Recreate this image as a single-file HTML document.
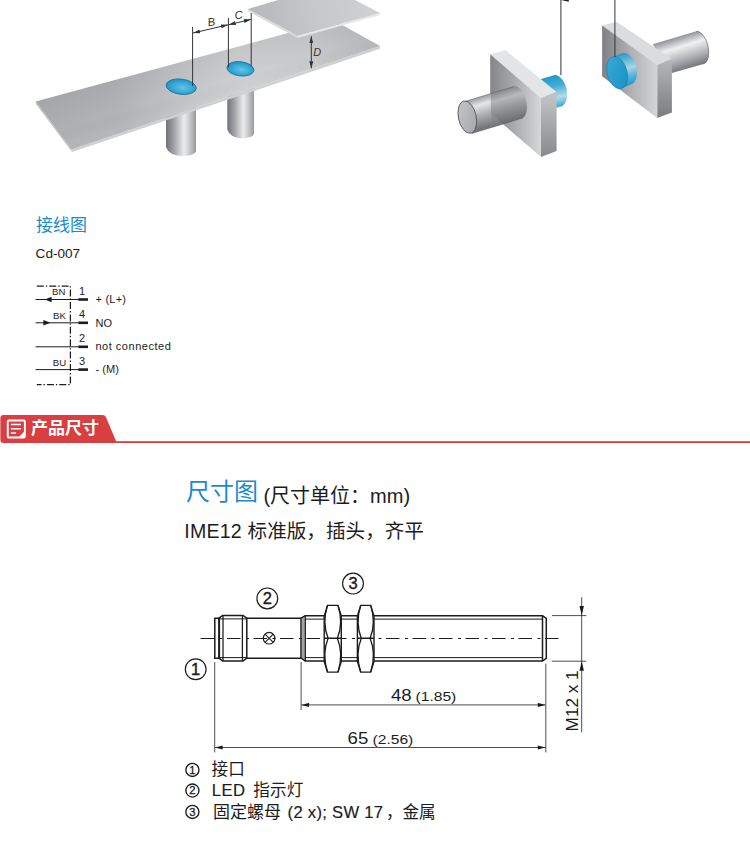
<!DOCTYPE html>
<html lang="zh-CN"><head><meta charset="utf-8"><title>IME12 接线图 / 尺寸图</title>
<style>
html,body{margin:0;padding:0;background:#fff;}
body{width:750px;height:843px;position:relative;overflow:hidden;font-family:"Liberation Sans","Noto Sans CJK SC",sans-serif;color:#1c1c1e;}
#g{position:absolute;left:0;top:0;width:750px;height:843px;display:block;}
.t{position:absolute;white-space:nowrap;line-height:1;margin:0;font-weight:normal;}
.b{-webkit-text-stroke:.18px #1c1c1e;}
.c{-webkit-text-stroke:0;letter-spacing:0;}
svg text{font-family:"Liberation Sans","Noto Sans CJK SC",sans-serif;fill:#1c1c1e;}
</style></head><body>
<svg id="g" width="750" height="843" viewBox="0 0 750 843"><defs>
<linearGradient id="lp" gradientUnits="userSpaceOnUse" x1="36" y1="110" x2="380" y2="30">
 <stop offset="0" stop-color="#adafb2"/><stop offset=".22" stop-color="#b1b3b6"/><stop offset=".45" stop-color="#c6c7c9"/><stop offset=".6" stop-color="#cfd0d2"/><stop offset=".8" stop-color="#c8c9cb"/><stop offset="1" stop-color="#b3b5b8"/>
</linearGradient>
<linearGradient id="lpo" gradientUnits="userSpaceOnUse" x1="200" y1="52" x2="214" y2="100">
 <stop offset="0" stop-color="#000" stop-opacity=".06"/><stop offset=".7" stop-color="#000" stop-opacity="0"/><stop offset="1" stop-color="#fff" stop-opacity=".05"/>
</linearGradient>
<linearGradient id="up" gradientUnits="userSpaceOnUse" x1="250" y1="20" x2="380" y2="0">
 <stop offset="0" stop-color="#b4b6b9"/><stop offset=".5" stop-color="#c7c8cb"/><stop offset="1" stop-color="#d0d1d3"/>
</linearGradient>
<linearGradient id="cy1" gradientUnits="userSpaceOnUse" x1="166" y1="0" x2="196" y2="0">
 <stop offset="0" stop-color="#6f7174"/><stop offset=".28" stop-color="#a3a5a8"/><stop offset=".6" stop-color="#ececed"/><stop offset=".78" stop-color="#c9cacc"/><stop offset="1" stop-color="#97999c"/>
</linearGradient>
<linearGradient id="cy2" gradientUnits="userSpaceOnUse" x1="227.3" y1="0" x2="254" y2="0">
 <stop offset="0" stop-color="#6f7174"/><stop offset=".28" stop-color="#a3a5a8"/><stop offset=".6" stop-color="#ececed"/><stop offset=".78" stop-color="#c9cacc"/><stop offset="1" stop-color="#97999c"/>
</linearGradient>
<radialGradient id="be" cx=".55" cy=".55" r=".6">
 <stop offset="0" stop-color="#66c3e3"/><stop offset=".55" stop-color="#38a9d5"/><stop offset="1" stop-color="#1d8dbe"/>
</radialGradient>
<linearGradient id="s1f" gradientUnits="userSpaceOnUse" x1="490" y1="0" x2="541" y2="0">
 <stop offset="0" stop-color="#838588"/><stop offset=".45" stop-color="#a6a8ab"/><stop offset="1" stop-color="#d6d7d9"/>
</linearGradient>
<linearGradient id="s1r" gradientUnits="userSpaceOnUse" x1="0" y1="95" x2="0" y2="157">
 <stop offset="0" stop-color="#c2c3c5"/><stop offset="1" stop-color="#88898c"/>
</linearGradient>
<linearGradient id="s2f" gradientUnits="userSpaceOnUse" x1="602" y1="0" x2="657" y2="0">
 <stop offset="0" stop-color="#7e8083"/><stop offset=".5" stop-color="#adafb2"/><stop offset="1" stop-color="#d3d4d6"/>
</linearGradient>
<linearGradient id="s2r" gradientUnits="userSpaceOnUse" x1="0" y1="60" x2="0" y2="118">
 <stop offset="0" stop-color="#b5b6b9"/><stop offset="1" stop-color="#7a7c7f"/>
</linearGradient>
<linearGradient id="gc1" gradientUnits="userSpaceOnUse" x1="488" y1="93" x2="497" y2="124">
 <stop offset="0" stop-color="#8e9093"/><stop offset=".28" stop-color="#e6e6e7"/><stop offset=".55" stop-color="#b5b7b9"/><stop offset="1" stop-color="#737578"/>
</linearGradient>
<linearGradient id="gc1d" gradientUnits="userSpaceOnUse" x1="488" y1="93" x2="497" y2="124">
 <stop offset="0" stop-color="#7e8083"/><stop offset=".3" stop-color="#b9babd"/><stop offset=".55" stop-color="#999b9e"/><stop offset="1" stop-color="#696b6e"/>
</linearGradient>
<linearGradient id="gcap" x1="0" y1="0" x2="1" y2="1">
 <stop offset="0" stop-color="#c6c7c9"/><stop offset="1" stop-color="#a3a5a8"/>
</linearGradient>
<linearGradient id="gc2" gradientUnits="userSpaceOnUse" x1="676" y1="37" x2="686" y2="69">
 <stop offset="0" stop-color="#8f9194"/><stop offset=".32" stop-color="#f0f0f1"/><stop offset=".6" stop-color="#c0c1c4"/><stop offset="1" stop-color="#77797c"/>
</linearGradient>
<linearGradient id="bc1" gradientUnits="userSpaceOnUse" x1="552" y1="75" x2="560" y2="107">
 <stop offset="0" stop-color="#1e97c9"/><stop offset=".35" stop-color="#43aed8"/><stop offset=".7" stop-color="#b4dcea"/><stop offset="1" stop-color="#3aa9d4"/>
</linearGradient>
<linearGradient id="bc2" gradientUnits="userSpaceOnUse" x1="626" y1="53" x2="634" y2="85">
 <stop offset="0" stop-color="#2a9dcb"/><stop offset=".45" stop-color="#a9d4e3"/><stop offset=".75" stop-color="#4eb0d6"/><stop offset="1" stop-color="#2595c5"/>
</linearGradient>
<linearGradient id="bf2" x1="0" y1="0" x2="1" y2="1">
 <stop offset="0" stop-color="#3aaad8"/><stop offset="1" stop-color="#1791c4"/>
</linearGradient>
<marker id="ah" viewBox="0 0 10 6" refX="10" refY="3" markerWidth="8.8" markerHeight="4.6" orient="auto-start-reverse" markerUnits="userSpaceOnUse"><path d="M0,0.3 L10,3 L0,5.7 Z" fill="#1c1c1e"/></marker>
</defs><defs><marker id="as" viewBox="0 0 7 4" refX="7" refY="2" markerWidth="7" markerHeight="4" orient="auto-start-reverse" markerUnits="userSpaceOnUse"><path d="M0,0 L7,2 L0,4 Z" fill="#333436"/></marker></defs><g id="ill1"><path d="M166,95 L166,147 Q169,155.5 182,156 Q193,156 196,151.5 L196,85 Z" fill="url(#cy1)"/><path d="M227.3,80 L227.3,129.6 Q230,137.8 241.5,138.4 Q251.5,138.4 254,134 L254,70 Z" fill="url(#cy2)"/><path d="M35.7,101.6 L71.2,149.6 L72,152 L36,104.2 Z" fill="#c4c5c8"/><path d="M71.2,149.6 L380,45.9 L380,48.7 L72,152 Z" fill="#cfd0d3"/><path d="M35.7,101.6 L71.2,149.6 L380,45.9 L334.2,20.4 Z" fill="url(#lp)"/><path d="M35.7,101.6 L71.2,149.6 L380,45.9 L334.2,20.4 Z" fill="url(#lpo)"/><ellipse cx="181.2" cy="86.7" rx="15.2" ry="7.6" transform="rotate(7 181.2 86.7)" fill="url(#be)" stroke="#1579a8" stroke-width=".9"/><ellipse cx="240.4" cy="68.8" rx="13.6" ry="7.1" transform="rotate(7 240.4 68.8)" fill="url(#be)" stroke="#1579a8" stroke-width=".9"/><path d="M248,9 L297.5,35.5 L297.5,37.9 L248,11.2 Z" fill="#d9dadc"/><path d="M297.5,35.5 L380,13 L380,15 L297.5,37.9 Z" fill="#e6e7e8"/><path d="M248,9 L297.5,35.5 L380,13 L355,0 L278,0 Z" fill="url(#up)"/><g stroke="#333436" stroke-width="1" fill="none"><line x1="192.6" y1="26.9" x2="192.6" y2="86"/><line x1="228.4" y1="18" x2="228.4" y2="67"/><line x1="251.2" y1="13" x2="251.2" y2="66"/><line x1="193.1" y1="33" x2="228" y2="24.8" marker-start="url(#as)" marker-end="url(#as)"/><line x1="228.8" y1="24.7" x2="250.9" y2="19.4" marker-start="url(#as)" marker-end="url(#as)"/><line x1="311.3" y1="36.2" x2="311.3" y2="68.3" marker-start="url(#as)" marker-end="url(#as)"/></g><text x="213.9" y="25.8" font-size="11.3" text-anchor="middle" transform="rotate(-6 211.3 21.7) skewX(-6)" style="fill:#333436">B</text><text x="238.5" y="18.9" font-size="11.2" font-style="italic" text-anchor="middle" transform="rotate(-6 238.5 14.9)" style="fill:#333436">C</text><text x="317.2" y="56.3" font-size="10.9" font-style="italic" text-anchor="middle" style="fill:#333436">D</text></g><g id="ill2"><path d="M541,79 L555.7,74.7 A10.2,16.6 -14 0 1 562.7,105.9 L548,110 Z" fill="url(#bc1)"/><path d="M490.2,54.2 L505.5,50.1 L556.6,92 L541,98.1 Z" fill="#e4e5e6"/><path d="M541,98.1 L556.6,92 L556.6,150.9 L541,157 Z" fill="url(#s1r)"/><path d="M490.2,54.2 L541,98.1 L541,157 L490.2,113.1 Z" fill="url(#s1f)"/><path d="M490.2,93.7 L514.1,86.4 A8.7,16.5 -13 0 1 522.8,118 L490.2,128 Z" fill="url(#gc1d)" opacity=".9"/><path d="M464.7,101.5 L490.8,93.5 L490.8,127.8 L471.7,133.6 Z" fill="url(#gc1)"/><path d="M464.7,101.5 L514.1,86.4 M471.7,133.6 L522.8,118" stroke="#55575a" stroke-width=".6" fill="none" opacity=".8"/><ellipse cx="467.3" cy="117.1" rx="8.9" ry="16.4" transform="rotate(-12 467.3 117.1)" fill="url(#gcap)" stroke="#4c4d50" stroke-width=".8"/><line x1="560.9" y1="0" x2="560.9" y2="75" stroke="#333436" stroke-width="1"/><path d="M561,0 L568.8,0 L568.8,1.7 Z" fill="#222"/></g><g id="ill3"><path d="M652.7,44.2 L696.3,31.3 A9,16.8 -13 0 1 703.5,64 L671.9,72.9 Z" fill="url(#gc2)"/><path d="M696.3,31.3 A9,16.8 -13 0 1 703.5,64" fill="none" stroke="#5c5e61" stroke-width=".7"/><path d="M602.1,25.4 L616.4,21.7 L671.9,59.1 L657.2,64.8 Z" fill="#dbdcde"/><path d="M657.2,64.8 L671.9,59.1 L671.9,112.6 L657.2,118 Z" fill="url(#s2r)"/><path d="M602.1,25.4 L657.2,64.8 L657.2,118 L602.1,76.2 Z" fill="url(#s2f)"/><path d="M612.9,56.9 L622.2,52.9 A10,16.4 -15 0 1 630.7,84.6 L621.4,88.6 Z" fill="url(#bc2)"/><ellipse cx="617.1" cy="72.7" rx="10" ry="16.4" transform="rotate(-15 617.1 72.7)" fill="url(#bf2)" stroke="#157fae" stroke-width=".6"/><line x1="614.9" y1="0" x2="614.9" y2="57" stroke="#333436" stroke-width="1"/></g><g id="wire" stroke="#1c1c1e" fill="none"><path d="M36.8,286 H70.4 V384.7 H36.8" stroke-width="1.25" stroke-dasharray="7 2 1.4 2"/><line x1="35.6" y1="299.5" x2="79" y2="299.5" stroke-width="1"/><line x1="78.4" y1="299.5" x2="88" y2="299.5" stroke-width="2.6"/><line x1="35.6" y1="322.8" x2="79" y2="322.8" stroke-width="1"/><line x1="78.4" y1="322.8" x2="88" y2="322.8" stroke-width="2.6"/><line x1="35.6" y1="346.8" x2="79" y2="346.8" stroke-width="1"/><line x1="78.4" y1="346.8" x2="88" y2="346.8" stroke-width="2.6"/><line x1="35.6" y1="369.6" x2="79" y2="369.6" stroke-width="1"/><line x1="78.4" y1="369.6" x2="88" y2="369.6" stroke-width="2.6"/><path d="M44.8,299.5 L51.6,296.8 L51.6,302.2 Z" fill="#1c1c1e" stroke="none"/><path d="M50.4,322.8 L43.4,320.1 L43.4,325.5 Z" fill="#1c1c1e" stroke="none"/></g><g font-size="9.6"><text x="52" y="295.3">BN</text><text x="53" y="318.6">BK</text><text x="52.8" y="365.6">BU</text></g><g font-size="11"><text x="79" y="294.6">1</text><text x="79" y="317.8">4</text><text x="79" y="341.6">2</text><text x="79" y="364.8">3</text></g><g font-size="11"><text x="95.4" y="303" textLength="30.6">+ (L+)</text><text x="95.4" y="326.6" textLength="16.6">NO</text><text x="95.4" y="350.4" textLength="75.4">not connected</text><text x="95.4" y="373.4" textLength="23.4">- (M)</text></g><path d="M0.4,418 Q0.4,415 3.4,415 L102.5,415 Q105,415 106,417.2 L116.8,443 L3.4,443 Q0.4,443 0.4,440 Z" fill="#d93e41"/><rect x="60" y="441.2" width="690" height="1.8" fill="#d93e41"/><rect x="7.75" y="420.45" width="17.1" height="17.1" rx="1" fill="none" stroke="#fff" stroke-width="1.9"/><path d="M24.2,431.4 V436.9 H19 Z" fill="#fff"/><path d="M10.9,424.5 H21 M10.9,428.8 H21 M10.9,433 H16.1" stroke="#fff" stroke-width="1.4" fill="none"/><g id="dim" stroke="#1c1c1e" fill="none" stroke-linejoin="miter"><line x1="199" y1="638.5" x2="560.3" y2="638.5" stroke-width="1" stroke-dasharray="13.5 5.5 3 4.5" stroke-dashoffset="25"/><g stroke-width="1.5"><path d="M219,618.2 H214.8 V658.2 H219"/><path d="M219.1,617.6 V658.8" stroke-width="2"/><path d="M219,618.2 L222.6,615.4 H243 L246.8,618.2 V658.2 L243,661 H222.6 L219,658.2"/><path d="M246.8,618.2 H301 M246.8,658.2 H301"/></g><g stroke-width="1.25"><path d="M223,615.4 V661 M242.4,615.4 V661"/></g><g stroke-width="1"><path d="M219.5,618.9 H246.5 M219.5,657.6 H246.5"/></g><circle cx="269.1" cy="638.2" r="5.8" stroke-width="1.2"/><path d="M265,634.1 L273.2,642.3 M273.2,634.1 L265,642.3" stroke-width="1.1"/><g stroke-width="1.5"><path d="M301,658 V618.2 L305.2,615.7 H324.4 M341.2,615.7 H357.5 M373.9,615.7 H542.5 L546.3,618.4 V658.4 L542.5,661.1 H373.9 M357.5,661.1 H341.2 M324.4,661.1 H305.2 L301,658"/><path d="M305.2,615.7 V661.1 M542.5,615.7 V661.1"/><path d="M303,617.2 V659.2" stroke-width=".8"/></g><g stroke-width="1"><path d="M305.2,619.1 H324.4 M341.2,619.1 H357.5 M373.9,619.1 H542.5 M305.2,657.6 H324.4 M341.2,657.6 H357.5 M373.9,657.6 H542.5"/></g><path d="M327.5,605.4 H338.0 L341.3,616.2 V661.3 L338.0,672.1 H327.5 L324.2,661.3 V616.2 Z M324.2,638.3 H341.3" stroke-width="1.4" fill="#fff"/><path d="M327.5,605.4 C323.4,618.4 324.4,629.3 328.09999999999997,638.3 C324.4,647.3 323.4,659.1 327.5,672.1 M338.0,605.4 C342.1,618.4 341.1,629.3 337.40000000000003,638.3 C341.1,647.3 342.1,659.1 338.0,672.1" stroke-width="1.3"/><path d="M360.7,605.4 H370.7 L374,616.2 V661.3 L370.7,672.1 H360.7 L357.4,661.3 V616.2 Z M357.4,638.3 H374" stroke-width="1.4" fill="#fff"/><path d="M360.7,605.4 C356.59999999999997,618.4 357.59999999999997,629.3 361.29999999999995,638.3 C357.59999999999997,647.3 356.59999999999997,659.1 360.7,672.1 M370.7,605.4 C374.8,618.4 373.8,629.3 370.1,638.3 C373.8,647.3 374.8,659.1 370.7,672.1" stroke-width="1.3"/><g stroke-width=".9" stroke="#3a3a3c"><path d="M214.7,662 V752.4 M301.1,662 V710 M545.8,663.7 V752.4 M551.9,615.6 H586.4 M551.9,661.2 H586.4 M581.7,597.2 V732.4"/><line x1="301.4" y1="704.9" x2="545.5" y2="704.9" marker-start="url(#ah)" marker-end="url(#ah)"/><line x1="215" y1="747.5" x2="545.5" y2="747.5" marker-start="url(#ah)" marker-end="url(#ah)"/></g><path d="M581.7,615.6 L579.5,606 H583.9 Z M581.7,661.2 L579.5,670.8 H583.9 Z" fill="#1c1c1e" stroke="none"/><circle cx="267.3" cy="598.4" r="10.4" stroke-width="1.15"/><circle cx="353" cy="583.6" r="10.4" stroke-width="1.15"/><circle cx="195.7" cy="669.3" r="10.4" stroke-width="1.15"/></g><g font-size="16.5" text-anchor="middle" style="stroke:#1c1c1e;stroke-width:.4"><text x="267.3" y="604.2">2</text><text x="353" y="589.4">3</text><text x="195.7" y="675.1">1</text></g><text font-size="16" transform="translate(391,701.1) scale(1.16 1)">48</text><text font-size="13" transform="translate(415.6,701.2) scale(1.2 1)">(1.85)</text><text font-size="16" transform="translate(347.6,744.2) scale(1.16 1)">65</text><text font-size="13" transform="translate(372.6,744.3) scale(1.2 1)">(2.56)</text><text font-size="15.6" transform="translate(578,731.4) rotate(-90)" textLength="61" lengthAdjust="spacingAndGlyphs">M12 x 1</text><circle cx="192.4" cy="769.9" r="6.55" fill="none" stroke="#1c1c1e" stroke-width="1.35"/><text x="192.4" y="773.85" font-size="11.2" text-anchor="middle" style="stroke:#1c1c1e;stroke-width:.3">1</text><circle cx="192.4" cy="790.5" r="6.55" fill="none" stroke="#1c1c1e" stroke-width="1.35"/><text x="192.4" y="794.45" font-size="11.2" text-anchor="middle" style="stroke:#1c1c1e;stroke-width:.3">2</text><circle cx="192.4" cy="811.9" r="6.55" fill="none" stroke="#1c1c1e" stroke-width="1.35"/><text x="192.4" y="815.85" font-size="11.2" text-anchor="middle" style="stroke:#1c1c1e;stroke-width:.3">3</text></svg>
<h2 class="t" style="left:36px;top:217px;font-size:17px;color:#1b8ad0">接线图</h2>
<div class="t" style="left:35.6px;top:247.4px;font-size:13.6px">Cd-007</div>
<h1 class="t" style="left:31px;top:420px;font-size:17px;font-weight:bold;color:#fff">产品尺寸</h1>
<h2 class="t" style="left:186px;top:480px;font-size:24px;color:#1b8ad0">尺寸图</h2>
<div class="t" style="left:263.4px;top:485.6px;font-size:20px">(<span style="display:inline-block;width:100px;vertical-align:top;height:20px">尺寸单位：</span>mm)</div>
<div class="t" style="left:184.3px;top:522px;font-size:19.6px;letter-spacing:.2px">IME12 <span style="letter-spacing:0">标准版，插头，齐平</span></div>
<div class="t" style="left:211.6px;top:761.5px;font-size:16.6px">接口</div>
<div class="t b" style="left:211.8px;top:783.2px;font-size:16.6px;letter-spacing:.5px">LED <span class="c" style="margin-left:2.6px;letter-spacing:.2px">指示灯</span></div>
<div class="t" style="left:213px;top:804px;font-size:17px">固定螺母</div>
<div class="t b" style="left:287.6px;top:804.6px;font-size:16.6px;letter-spacing:.3px">(2 x); SW 17<span class="c" style="margin-left:2.5px">，金属</span></div>
</body></html>
